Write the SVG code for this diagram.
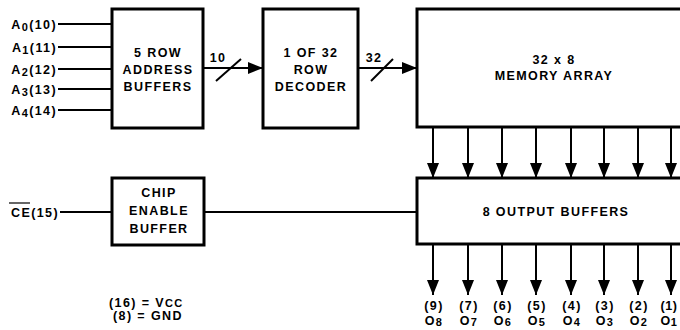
<svg xmlns="http://www.w3.org/2000/svg" width="680" height="330" viewBox="0 0 680 330">
<style>
.box{fill:#fff;stroke:#000;stroke-width:3}
.ln{stroke:#000;stroke-width:2;fill:none}
.ar{stroke:#000;stroke-width:2;fill:none;marker-end:url(#ah)}
text{font-family:"Liberation Sans",Arial,sans-serif;font-weight:bold;font-size:12.5px;fill:#000;letter-spacing:1.4px}
.c{text-anchor:middle}
.e{text-anchor:end}
.s{font-size:11px}
.t{letter-spacing:0.6px}
</style>
<defs>
<marker id="ah" markerUnits="userSpaceOnUse" markerWidth="16" markerHeight="12" refX="15" refY="6" orient="auto">
<path d="M0,0 L15,6 L0,12 z" fill="#000"/>
</marker>
</defs>
<rect width="680" height="330" fill="#fff"/>
<g id="connectors">
<line class="ln" x1="58" y1="24" x2="112" y2="24"/>
<line class="ln" x1="58" y1="47" x2="112" y2="47"/>
<line class="ln" x1="58" y1="69" x2="112" y2="69"/>
<line class="ln" x1="58" y1="89" x2="112" y2="89"/>
<line class="ln" x1="58" y1="110" x2="112" y2="110"/>
<line class="ar" x1="203" y1="68" x2="263" y2="68"/>
<line class="ln" x1="216" y1="81" x2="241" y2="59"/>
<text class="c" x="218" y="62">10</text>
<line class="ar" x1="358" y1="68" x2="417" y2="68"/>
<line class="ln" x1="371" y1="81" x2="393" y2="59"/>
<text class="c" x="374" y="62">32</text>
<line class="ln" x1="60" y1="212" x2="112" y2="212"/>
<line class="ln" x1="204" y1="212" x2="417" y2="212"/>
<g id="mem-arrows">
<line class="ar" x1="433" y1="127" x2="433" y2="178"/>
<line class="ar" x1="468" y1="127" x2="468" y2="178"/>
<line class="ar" x1="502" y1="127" x2="502" y2="178"/>
<line class="ar" x1="536" y1="127" x2="536" y2="178"/>
<line class="ar" x1="571" y1="127" x2="571" y2="178"/>
<line class="ar" x1="604" y1="127" x2="604" y2="178"/>
<line class="ar" x1="638" y1="127" x2="638" y2="178"/>
<line class="ar" x1="671" y1="127" x2="671" y2="178"/>
</g>
<g id="out-arrows">
<line class="ar" x1="433" y1="244" x2="433" y2="295"/>
<line class="ar" x1="468" y1="244" x2="468" y2="295"/>
<line class="ar" x1="502" y1="244" x2="502" y2="295"/>
<line class="ar" x1="536" y1="244" x2="536" y2="295"/>
<line class="ar" x1="571" y1="244" x2="571" y2="295"/>
<line class="ar" x1="604" y1="244" x2="604" y2="295"/>
<line class="ar" x1="638" y1="244" x2="638" y2="295"/>
<line class="ar" x1="671" y1="244" x2="671" y2="295"/>
</g>
</g>
<g id="inputs">
<text class="e" x="57" y="29">A<tspan class="s" dy="2">0</tspan><tspan dy="-2">(10)</tspan></text>
<text class="e" x="57" y="52">A<tspan class="s" dy="2">1</tspan><tspan dy="-2">(11)</tspan></text>
<text class="e" x="57" y="74">A<tspan class="s" dy="2">2</tspan><tspan dy="-2">(12)</tspan></text>
<text class="e" x="57" y="94">A<tspan class="s" dy="2">3</tspan><tspan dy="-2">(13)</tspan></text>
<text class="e" x="57" y="115">A<tspan class="s" dy="2">4</tspan><tspan dy="-2">(14)</tspan></text>
<text class="e" x="59" y="217">CE(15)</text>
<line x1="9" y1="203" x2="30" y2="203" stroke="#000" stroke-width="1.2"/>
</g>
<g id="address-buffers">
<rect class="box" x="112" y="9" width="91" height="119"/>
<text class="c" x="158" y="57">5 ROW</text>
<text class="c" x="158" y="74">ADDRESS</text>
<text class="c" x="158" y="91">BUFFERS</text>
</g>
<g id="row-decoder">
<rect class="box" x="263" y="9" width="95" height="119"/>
<text class="c" x="311" y="57">1 OF 32</text>
<text class="c" x="311" y="74">ROW</text>
<text class="c" x="311" y="91">DECODER</text>
</g>
<g id="memory-array">
<rect class="box" x="417" y="9" width="280" height="118"/>
<text class="c" x="554" y="64">32 x 8</text>
<text class="c" x="554" y="80">MEMORY ARRAY</text>
</g>
<g id="chip-enable">
<rect class="box" x="112" y="178" width="92" height="67"/>
<text class="c" x="159" y="197">CHIP</text>
<text class="c" x="159" y="215">ENABLE</text>
<text class="c" x="159" y="233">BUFFER</text>
</g>
<g id="output-buffers">
<rect class="box" x="417" y="178" width="280" height="66"/>
<text class="c" x="556" y="216">8 OUTPUT BUFFERS</text>
</g>
<g id="outputs">
<text class="c" x="434" y="310">(9)</text>
<text class="c" x="469" y="310">(7)</text>
<text class="c" x="503" y="310">(6)</text>
<text class="c" x="537" y="310">(5)</text>
<text class="c" x="572" y="310">(4)</text>
<text class="c" x="605" y="310">(3)</text>
<text class="c" x="639" y="310">(2)</text>
<text class="c t" x="669" y="310">(1)</text>
<text class="c" x="434" y="325">O<tspan class="s" dy="1">8</tspan></text>
<text class="c" x="469" y="325">O<tspan class="s" dy="1">7</tspan></text>
<text class="c" x="503" y="325">O<tspan class="s" dy="1">6</tspan></text>
<text class="c" x="537" y="325">O<tspan class="s" dy="1">5</tspan></text>
<text class="c" x="572" y="325">O<tspan class="s" dy="1">4</tspan></text>
<text class="c" x="605" y="325">O<tspan class="s" dy="1">3</tspan></text>
<text class="c" x="639" y="325">O<tspan class="s" dy="1">2</tspan></text>
<text class="c t" x="669" y="325">O<tspan class="s" dy="1">1</tspan></text>
</g>
<g id="power-note">
<text x="109" y="307">(16) = V<tspan class="s">CC</tspan></text>
<text x="113" y="320">(8)  = GND</text>
</g>
</svg>
